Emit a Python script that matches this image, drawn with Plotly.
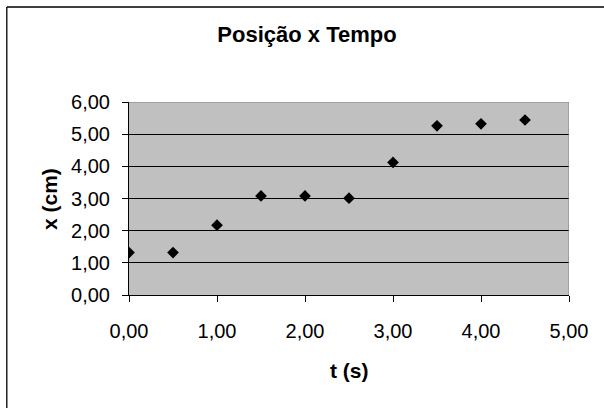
import plotly.graph_objects as go

# Data
tempo = [0.0, 0.5, 1.0, 1.5, 2.0, 2.5, 3.0, 3.5, 4.0, 4.5]
posicao = [1.32, 1.32, 2.17, 3.08, 3.08, 3.01, 4.12, 5.26, 5.32, 5.44]
x_ticks = [0, 1, 2, 3, 4, 5]
y_ticks = [0, 1, 2, 3, 4, 5, 6]

FONT = "Liberation Sans, Arial, sans-serif"

fig = go.Figure()
fig.add_trace(go.Scatter(
    x=tempo, y=posicao, mode="markers",
    marker=dict(symbol="diamond", size=9, color="#000000", line=dict(width=0)),
    showlegend=False, hoverinfo="skip",
))

W, H = 604, 408
L, R, T, B = 129, 569, 102, 295
pw, ph = R - L, B - T

def px_x(px):
    return (px - L) / pw

def px_y(py):
    return (B - py) / ph

fig.update_layout(
    width=W, height=H,
    margin=dict(l=L, r=W - R, t=T, b=H - B, pad=0),
    paper_bgcolor="white",
    plot_bgcolor="#C0C0C0",
    separators=",.",
    font=dict(family=FONT, color="#000000"),
    title=dict(
        text="<b>Posição x Tempo</b>",
        font=dict(family=FONT, size=22, color="#000000"),
        x=307 / W, xref="container", xanchor="center",
        y=1 - 34 / H, yref="container", yanchor="middle",
    ),
    xaxis=dict(
        range=[0, 5], tickvals=x_ticks, tickformat=".2f",
        showgrid=False, zeroline=False,
        showline=True, linecolor="#000000", linewidth=1,
        ticks="outside", ticklen=6, tickcolor="#000000", tickwidth=1,
        tickfont=dict(family=FONT, size=20, color="#000000"),
        ticklabelstandoff=12,
        fixedrange=True,
    ),
    yaxis=dict(
        range=[0, 6], tickvals=y_ticks, tickformat=".2f",
        showgrid=True, gridcolor="#000000", gridwidth=1,
        zeroline=False,
        showline=True, linecolor="#000000", linewidth=1,
        ticks="outside", ticklen=6, tickcolor="#000000", tickwidth=1,
        tickfont=dict(family=FONT, size=20, color="#000000"),
        ticklabelstandoff=8,
        fixedrange=True,
    ),
    annotations=[
        dict(text="<b>x (cm)</b>", textangle=-90, showarrow=False,
             xref="paper", yref="paper", x=px_x(49), y=px_y(199),
             xanchor="center", yanchor="middle",
             font=dict(family=FONT, size=21, color="#000000")),
        dict(text="<b>t (s)</b>", showarrow=False,
             xref="paper", yref="paper", x=px_x(349), y=px_y(370),
             xanchor="center", yanchor="middle",
             font=dict(family=FONT, size=21, color="#000000")),
    ],
    shapes=[
        # plot area border (top and right, gray)
        dict(type="line", xref="x", yref="y", x0=0, x1=5, y0=6, y1=6,
             line=dict(color="#808080", width=1), layer="above"),
        dict(type="line", xref="x", yref="y", x0=5, x1=5, y0=0, y1=6,
             line=dict(color="#808080", width=1), layer="above"),
        # chart outer frame (left and top visible)
        dict(type="line", xref="paper", yref="paper",
             x0=px_x(6.8), x1=px_x(6.8), y0=px_y(7), y1=px_y(420),
             line=dict(color="#000000", width=1.3)),
        dict(type="line", xref="paper", yref="paper",
             x0=px_x(6.8), x1=px_x(620), y0=px_y(7), y1=px_y(7),
             line=dict(color="#000000", width=1.3)),
    ],
)

fig.write_html("out.html")
